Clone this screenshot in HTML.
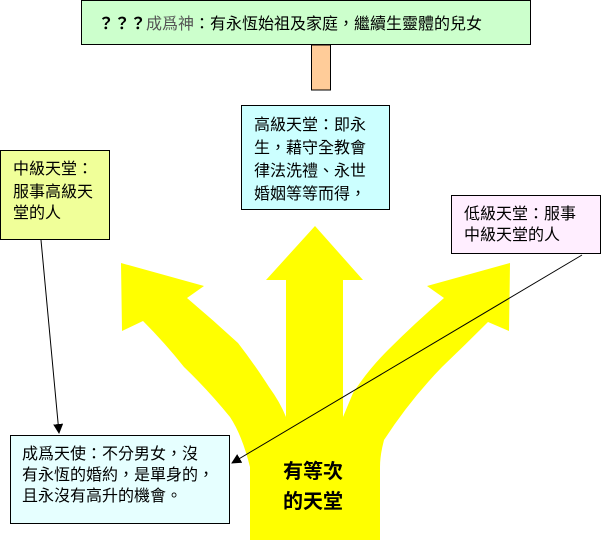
<!DOCTYPE html>
<html><head><meta charset="utf-8"><style>
html,body{margin:0;padding:0;background:#fff;}
svg{display:block;}
text{font-family:"Liberation Sans","Noto Sans CJK TC",sans-serif;font-size:16px;fill:#000;}
</style></head><body>
<svg width="601" height="540" viewBox="0 0 601 540" xmlns="http://www.w3.org/2000/svg">
<defs>
<marker id="ah" markerWidth="10" markerHeight="10" refX="9" refY="5" orient="auto" markerUnits="userSpaceOnUse">
<path d="M0,0 L10,5 L0,10 Z" fill="#000"/></marker>
</defs>
<path fill="#ffff00" d="M250,540 L250,467 Q242,435 230,417 Q208,390 184,367 Q165,343 143,321 L122,331 L121,263 L204,286 L187,298 Q213,320 238,343 Q255,365 269,387 Q280,402 286,417 L286,280 L266,280 L315,226 L363,280 L343,280 L343,417 Q348,405 353,393 Q368,370 388,350 Q415,323 444,298 L427,286 L510,263 L509,331 L488,322 Q465,345 442,367 Q410,400 384,440 Q380,455 380,467 L380,540 Z"/>
<rect x="81.5" y="0.5" width="449" height="44" fill="#ccffcc" stroke="#000"/>
<text x="98" y="29"><tspan font-weight="bold">？？？</tspan><tspan fill="#555">成爲神</tspan>：有永恆始祖及家庭，繼續生靈體的兒女</text>
<rect x="311.5" y="45" width="19" height="45" fill="#ffcc99" stroke="#000"/>
<rect x="241.5" y="105.5" width="148" height="104" fill="#ccffff" stroke="#000"/>
<text x="254" y="130">高級天堂：即永</text>
<text x="254" y="153">生，藉守全教會</text>
<text x="254" y="176">律法洗禮、永世</text>
<text x="254" y="199">婚姻等等而得，</text>
<rect x="0.5" y="150.5" width="109" height="89" fill="#f0ff99" stroke="#000"/>
<text x="13" y="174">中級天堂：</text>
<text x="13" y="197">服事高級天</text>
<text x="13" y="218">堂的人</text>
<rect x="451.5" y="195.5" width="149" height="58" fill="#ffeeff" stroke="#000"/>
<text x="464" y="219">低級天堂：服事</text>
<text x="464" y="240">中級天堂的人</text>
<rect x="10.5" y="435.5" width="219" height="88" fill="#e6ffff" stroke="#000"/>
<text x="22" y="459">成爲天使：不分男女，沒</text>
<text x="22" y="480">有永恆的婚約，是單身的，</text>
<text x="22" y="501">且永沒有高升的機會。</text>
<line x1="41" y1="240" x2="59" y2="433" stroke="#000" stroke-width="1" marker-end="url(#ah)"/>
<line x1="582" y1="255" x2="232" y2="463" stroke="#000" stroke-width="1" marker-end="url(#ah)"/>
<text x="313" y="478" text-anchor="middle" font-weight="bold" style="font-size:20px">有等次</text>
<text x="313" y="508" text-anchor="middle" font-weight="bold" style="font-size:20px">的天堂</text>
</svg>
</body></html>
